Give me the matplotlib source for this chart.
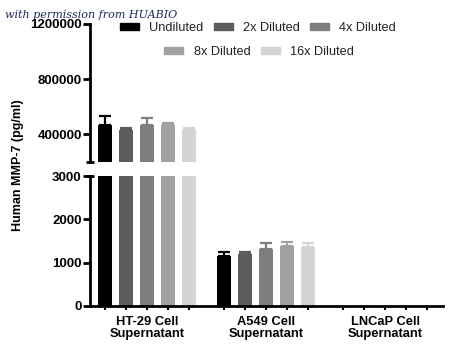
import matplotlib
matplotlib.use("Agg")
import matplotlib.pyplot as plt
import numpy as np
from matplotlib.patches import Patch

plt.rcParams['font.family'] = ['Liberation Sans', 'DejaVu Sans']

groups = ["HT-29 Cell\nSupernatant", "A549 Cell\nSupernatant", "LNCaP Cell\nSupernatant"]
series = ["Undiluted", "2x Diluted", "4x Diluted", "8x Diluted", "16x Diluted"]
colors = ["#000000", "#5c5c5c", "#7e7e7e", "#a0a0a2", "#d4d4d4"]
# values (pg/ml), rows = groups, cols = series
means = np.array([
    [465000, 429000, 468000, 468000, 429000],
    [1155, 1200, 1323, 1385, 1362],
    [0, 0, 0, 0, 0],
])
errs = np.array([
    [66000, 15000, 48000, 17000, 15000],
    [100, 55, 140, 95, 100],
    [0, 0, 0, 0, 0],
])

group_step = 5.67
W, H = 450, 354
fig = plt.figure(figsize=(4.5, 3.54), dpi=100)
axL = fig.add_axes([90/W, 1-306/H, (443-90)/W, (306-176)/H])
axU = fig.add_axes([90/W, 1-162/H, (443-90)/W, (162-24)/H], sharex=axL)

xs_all = []
for g in range(len(groups)):
    for i in range(len(series)):
        x = g*group_step + i
        xs_all.append(x)
        for ax in (axL, axU):
            ax.bar(x, means[g, i], width=0.67, color=colors[i], zorder=2)
            if means[g, i] > 0:
                ax.errorbar(x, means[g, i], yerr=[[0], [errs[g, i]]], fmt='none',
                            ecolor=colors[i], elinewidth=1.6, capsize=4, capthick=1.6, zorder=1)

axL.set_ylim(0, 3000)
axU.set_ylim(200000, 1200000)
axL.set_xlim(-0.72, 2*group_step + 4 + 0.76)

tick_fs = 9.5
for ax in (axL, axU):
    ax.spines['top'].set_visible(False)
    ax.spines['right'].set_visible(False)
    ax.spines['left'].set_linewidth(2)
    ax.tick_params(axis='y', direction='out', length=5, width=2, labelsize=tick_fs, pad=1)
    ax.patch.set_alpha(0)

axU.spines['bottom'].set_visible(False)
axU.tick_params(axis='x', bottom=False, labelbottom=False)
axU.set_yticks([400000, 800000, 1200000])
axU.set_yticklabels(["400000", "800000", "1200000"], fontweight='bold')
axL.set_yticks([0, 1000, 2000, 3000])
axL.set_yticklabels(["0", "1000", "2000", "3000"], fontweight='bold')
axL.spines['bottom'].set_linewidth(2)
axL.set_xticks(xs_all)
axL.set_xticklabels([])
axL.tick_params(axis='x', direction='out', length=3, width=1.5)

# group labels
for g, name in enumerate(groups):
    axL.text(g*group_step + 2, -230, name, ha='center', va='top', fontsize=9.3,
             fontweight='bold', linespacing=1.05)

# break markers
for ax, yv in ((axU, 0), (axL, 1)):
    ax.plot([-0.012, 0.012], [yv, yv], transform=ax.transAxes, color='black',
            lw=2, clip_on=False, solid_capstyle='butt')

fig.text(18/W, 1-165/H, "Human MMP-7 (pg/ml)", rotation=90, ha='center', va='center',
         fontsize=9, fontweight='bold')

# legends (two centered rows)
h1 = [Patch(color=colors[i]) for i in range(3)]
h2 = [Patch(color=colors[i]) for i in range(3, 5)]
legkw = dict(frameon=False, fontsize=9.2, handlelength=1.5, handleheight=0.45,
             handletextpad=0.8, columnspacing=0.8, labelcolor='#222222', borderaxespad=0)
leg1 = fig.legend(h1, series[:3], ncol=3, loc='center', bbox_to_anchor=(258/W, 1-28/H), **legkw)
leg2 = fig.legend(h2, series[3:], ncol=2, loc='center', bbox_to_anchor=(259/W, 1-52/H), **legkw)

fig.text(5/W, 1-15/H, "with permission from HUABIO", fontsize=8, style='italic',
         family='DejaVu Serif', color='#1c2a5c', va='center', ha='left')

fig.savefig("out.png", dpi=100)
